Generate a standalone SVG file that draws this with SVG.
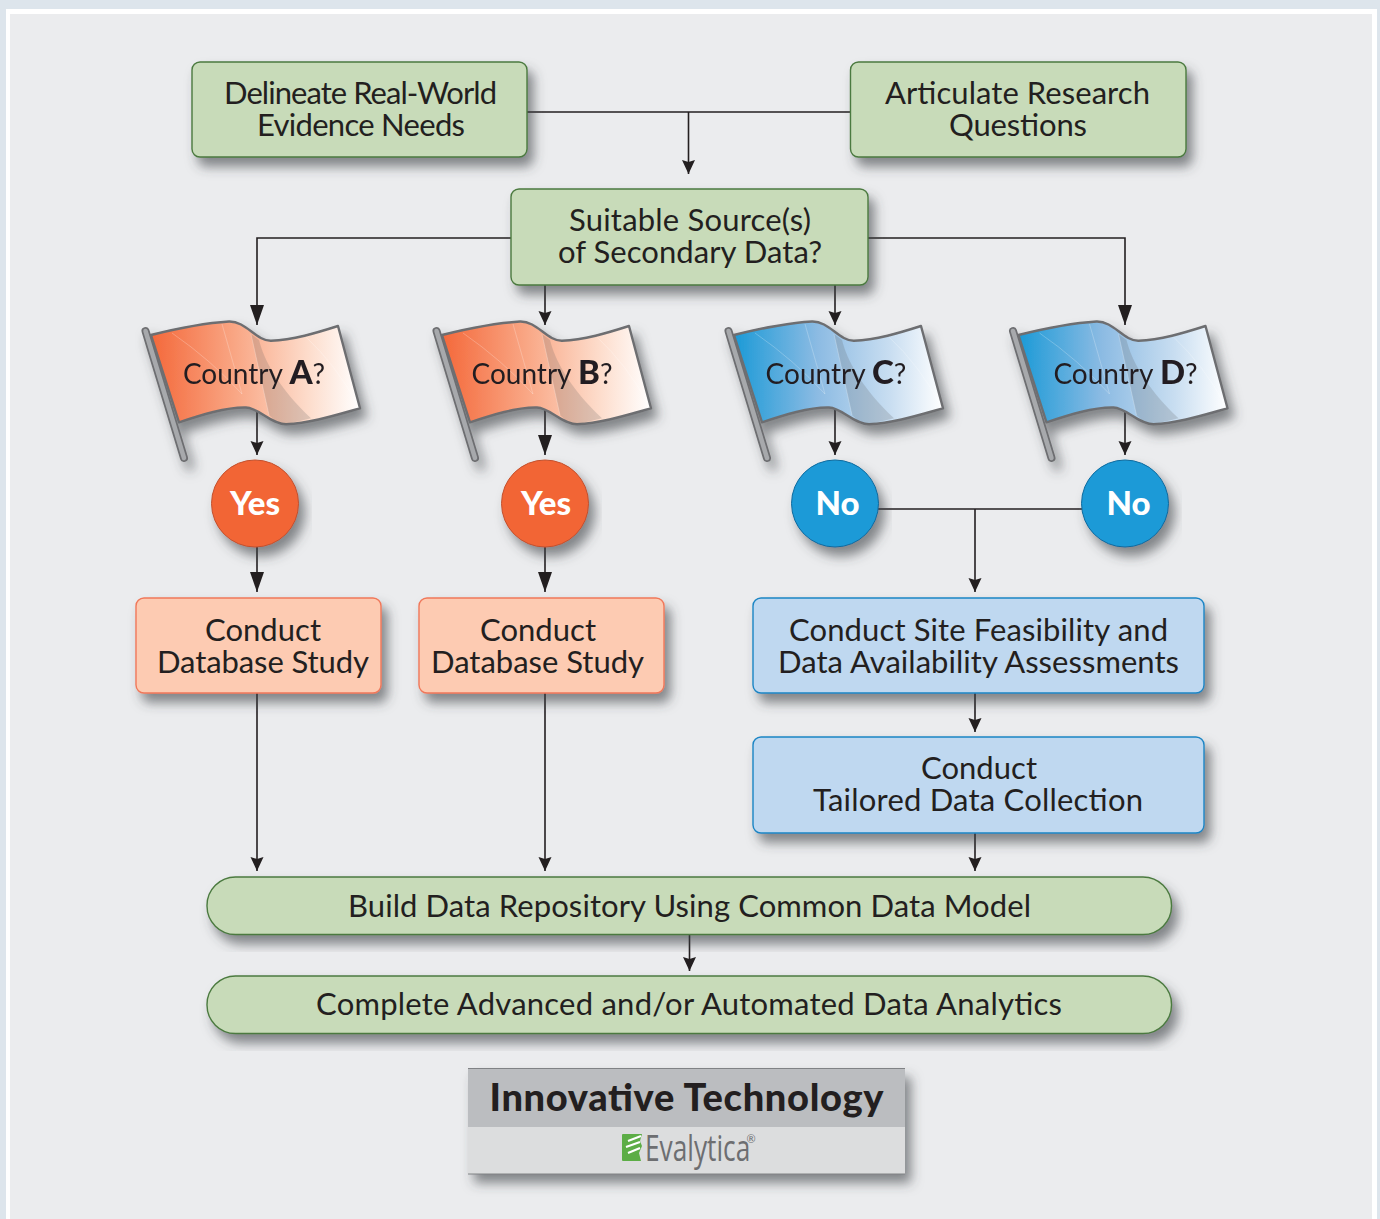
<svg xmlns="http://www.w3.org/2000/svg" width="1380" height="1219" viewBox="0 0 1380 1219">
<style>
text{font-family:Lato,"Open Sans","Liberation Sans",sans-serif;fill:#231f20;text-anchor:middle}
.t{font-size:31px}
.q{font-size:28px}
.qb{font-size:33px;font-weight:900}
.yn{font-size:33px;font-weight:900;fill:#fff}
.c{fill:none;stroke:#231f20;stroke-width:1.6}
.a{marker-end:url(#arr)}
.l{marker-end:url(#arrl)}
.g{fill:#c8dbb9;stroke:#4b7a3f;stroke-width:1.4}
.o{fill:#fdcbb2;stroke:#f0785a;stroke-width:1.4}
.b{fill:#bfd8f0;stroke:#1b85c4;stroke-width:1.4}
.s{filter:url(#sh)}
</style>
<defs>
<filter id="sh" x="-15%" y="-15%" width="130%" height="145%"><feDropShadow dx="6" dy="9" stdDeviation="6" flood-color="#3c3f44" flood-opacity=".6"/></filter>
<marker id="arr" markerUnits="userSpaceOnUse" markerWidth="16" markerHeight="16" viewBox="0 0 16 16" refX="15" refY="8" orient="auto"><path d="M1 1.500 L15 8 L1 14.500 L3 8Z" fill="#231f20"/></marker>
<marker id="arrl" markerUnits="userSpaceOnUse" markerWidth="22" markerHeight="16" viewBox="0 0 22 16" refX="21" refY="8" orient="auto"><path d="M1 1 L21 8 L1 15Z" fill="#231f20"/></marker>
<linearGradient id="fo" x1="0" x2="1" y1="0" y2="0"><stop offset="0" stop-color="#f4683a"/><stop offset=".4" stop-color="#f9a684"/><stop offset=".75" stop-color="#fddccb"/><stop offset="1" stop-color="#fff"/></linearGradient>
<linearGradient id="fb" x1="0" x2="1" y1="0" y2="0"><stop offset="0" stop-color="#1b9ad7"/><stop offset=".4" stop-color="#8cbbe3"/><stop offset=".75" stop-color="#c9def1"/><stop offset="1" stop-color="#fff"/></linearGradient>
<g id="pole"><path d="M145.500 331 L184 458" stroke="#6d6e71" stroke-width="8" stroke-linecap="round" fill="none"/><path d="M145.500 331 L184 458" stroke="#a7a9ac" stroke-width="4.500" stroke-linecap="round" fill="none"/></g>
<path id="cloth" d="M151 335 C175 329 205 323 229 321.500 C246 321 256 341 271 340.700 C293 340 316 333 338 326 L360 408.300 C336 415 311 423 286 424.300 C271 424 259 408 246 407.500 C226 407 201 415 179 422.300 Z" stroke="#6d6e71" stroke-width="2.400" stroke-linejoin="round"/>
<g id="folds"><path d="M251 334 L259 340 C264 360 278 387 311 418.300 L286 424.300 C278 424 273 419 269 415Z" fill="#58595b" opacity=".2"/><path d="M172 333 Q211 360 242 394 L222 324 M251 334 L269 415 M306 337 Q336 365 357 404" fill="none" stroke="#fff" stroke-width=".6" opacity=".4"/></g>
</defs>
<rect width="1380" height="1219" fill="#dde5ec"/>
<rect x="6" y="9" width="1371" height="1210" fill="#fff"/>
<rect x="10" y="14" width="1362" height="1205" fill="#ebecee"/>
<g id="connectors" fill="none">
<path class="c" d="M527 112H851"/><path class="c a" d="M688.500 112V174"/>
<path class="c l" d="M511 238H257V325"/>
<path class="c l" d="M868 238H1125V325"/>
<path class="c a" d="M545 285V325"/>
<path class="c a" d="M835 285V325"/>
<path class="c a" d="M257 410V455"/>
<path class="c l" d="M545 410V455"/>
<path class="c a" d="M835 410V455"/>
<path class="c a" d="M1125 410V455"/>
<path class="c l" d="M257 547V592"/>
<path class="c l" d="M545 547V592"/>
<path class="c" d="M878 509H1082"/><path class="c a" d="M975 509V592"/>
<path class="c a" d="M975 693V732"/>
<path class="c a" d="M975 833V871"/>
<path class="c a" d="M257 693V871"/>
<path class="c a" d="M545 693V871"/>
<path class="c a" d="M689.500 934V971"/>
</g>
<g id="n-delineate"><rect class="g s" x="192" y="62" width="335" height="95" rx="8"/><text class="t" x="360.500" y="103.500" textLength="273">Delineate Real-World</text><text class="t" x="361" y="135.500" textLength="208">Evidence Needs</text></g>
<g id="n-articulate"><rect class="g s" x="850.500" y="62" width="335.500" height="95" rx="8"/><text class="t" x="1017.500" y="103.500" textLength="265">Articulate Research</text><text class="t" x="1018" y="135.500" textLength="138">Questions</text></g>
<g id="n-suitable"><rect class="g s" x="511" y="189" width="357" height="96" rx="8"/><text class="t" x="690" y="230.500" textLength="242">Suitable Source(s)</text><text class="t" x="690" y="262.500" textLength="264">of Secondary Data?</text></g>
<g id="n-flag-a" class="s"><use href="#pole"/><use href="#cloth" fill="url(#fo)"/><use href="#folds"/><text class="q" x="254" y="384"><tspan>Country </tspan><tspan class="qb">A</tspan><tspan>?</tspan></text></g>
<g id="n-flag-b" class="s" transform="translate(291 0)"><use href="#pole"/><use href="#cloth" fill="url(#fo)"/><use href="#folds"/><text class="q" x="251" y="384"><tspan>Country </tspan><tspan class="qb">B</tspan><tspan>?</tspan></text></g>
<g id="n-flag-c" class="s" transform="translate(583 0)"><use href="#pole"/><use href="#cloth" fill="url(#fb)"/><use href="#folds"/><text class="q" x="253" y="384"><tspan>Country </tspan><tspan class="qb">C</tspan><tspan>?</tspan></text></g>
<g id="n-flag-d" class="s" transform="translate(867.500 0)"><use href="#pole"/><use href="#cloth" fill="url(#fb)"/><use href="#folds"/><text class="q" x="258" y="384"><tspan>Country </tspan><tspan class="qb">D</tspan><tspan>?</tspan></text></g>
<g id="n-yes-a"><circle class="s" cx="255" cy="503.500" r="43.500" fill="#f26536" stroke="#c2502c"/><text class="yn" x="255" y="514.500">Yes</text></g>
<g id="n-yes-b"><circle class="s" cx="545" cy="503.500" r="43.500" fill="#f26536" stroke="#c2502c"/><text class="yn" x="546" y="514.500">Yes</text></g>
<g id="n-no-c"><circle class="s" cx="835" cy="503.500" r="43.500" fill="#1b9ad7" stroke="#0f6a9e"/><text class="yn" x="837.500" y="514.500">No</text></g>
<g id="n-no-d"><circle class="s" cx="1125" cy="503.500" r="43.500" fill="#1b9ad7" stroke="#0f6a9e"/><text class="yn" x="1128.500" y="514.500">No</text></g>
<g id="n-db-a"><rect class="o s" x="136" y="598" width="245" height="95" rx="8"/><text class="t" x="263" y="640.500" textLength="116">Conduct</text><text class="t" x="263" y="672.500" textLength="212">Database Study</text></g>
<g id="n-db-b"><rect class="o s" x="419" y="598" width="245" height="95" rx="8"/><text class="t" x="538" y="640.500" textLength="116">Conduct</text><text class="t" x="537.500" y="672.500" textLength="213">Database Study</text></g>
<g id="n-site"><rect class="b s" x="753" y="598" width="451" height="95" rx="8"/><text class="t" x="978.500" y="640.500" textLength="379">Conduct Site Feasibility and</text><text class="t" x="978.500" y="672.500" textLength="401">Data Availability Assessments</text></g>
<g id="n-tailored"><rect class="b s" x="753" y="737" width="451" height="96" rx="8"/><text class="t" x="979" y="778.500" textLength="116">Conduct</text><text class="t" x="978" y="810.500" textLength="330">Tailored Data Collection</text></g>
<g id="n-build"><rect class="g s" x="207" y="877" width="964.500" height="57.500" rx="28.500"/><text class="t" x="689.500" y="916.500" textLength="683">Build Data Repository Using Common Data Model</text></g>
<g id="n-analytics"><rect class="g s" x="207" y="976" width="964.500" height="57.500" rx="28.500"/><text class="t" x="689" y="1014.500" textLength="746">Complete Advanced and/or Automated Data Analytics</text></g>
<g id="n-footer">
<rect class="s" x="468" y="1068" width="437" height="106" fill="#dcddde"/>
<rect x="468" y="1068" width="437" height="59" fill="#bbbdc0"/>
<path d="M468 1068.500H905M468 1174H905" stroke="#808285" stroke-width="1" fill="none"/>
<text x="686.500" y="1111" font-size="38" font-weight="900" textLength="394">Innovative Technology</text>
<path d="M622 1135Q622 1134 623 1134H642L640 1141 642 1146 639 1153 641 1161H623Q622 1161 622 1160Z" fill="#5cad46"/>
<path d="M628 1141L641 1136M626 1147L640 1142M628 1153L640 1148" stroke="#fff" stroke-width="2" fill="none"/>
<text transform="translate(645 1161) scale(.73 1)" font-size="36" style="text-anchor:start;font-family:'Open Sans',sans-serif;fill:#6d6e71">Evalytica</text>
<text x="751" y="1143" font-size="11" style="fill:#6d6e71">®</text>
</g>
</svg>
